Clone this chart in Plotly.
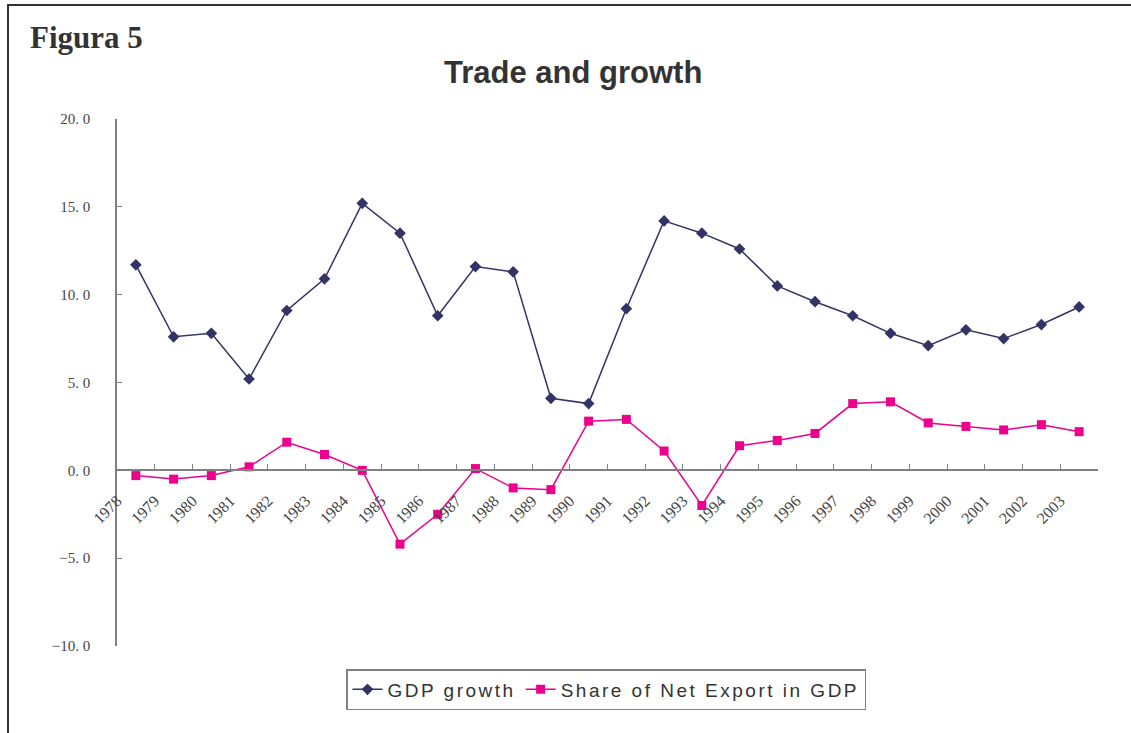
import plotly.graph_objects as go

years = list(range(1978, 2004))
gdp_growth = [11.7, 7.6, 7.8, 5.2, 9.1, 10.9, 15.2, 13.5, 8.8, 11.6, 11.3, 4.1, 3.8,
              9.2, 14.2, 13.5, 12.6, 10.5, 9.6, 8.8, 7.8, 7.1, 8.0, 7.5, 8.3, 9.3]
net_export_share = [-0.3, -0.5, -0.3, 0.2, 1.6, 0.9, 0.0, -4.2, -2.5, 0.1, -1.0, -1.1, 2.8,
                    2.9, 1.1, -2.0, 1.4, 1.7, 2.1, 3.8, 3.9, 2.7, 2.5, 2.3, 2.6, 2.2]
y_ticks = [-10, -5, 0, 5, 10, 15, 20]
y_tick_labels = ["\u221210. 0", "\u22125. 0", "0. 0", "5. 0", "10. 0", "15. 0", "20. 0"]
x_tick_labels = [str(y) for y in years] + [""]
series_names = ["GDP growth", "Share of Net Export in GDP"]

W, H = 1131, 733
L, R, T, B = 117, 33, 119, 87
pw, ph = W - L - R, H - T - B

def px_x(p):
    return (p - L) / pw

def px_y(p):
    return (H - B - p) / ph

def spaced(s):
    return '<span style="letter-spacing:2.5px">' + s + '</span>'

x_mid = [y + 0.5 for y in years]

fig = go.Figure()
fig.add_trace(go.Scatter(
    x=x_mid, y=gdp_growth, mode="lines+markers", name=spaced(series_names[0]),
    line=dict(color="#333366", width=1.5),
    marker=dict(symbol="diamond", size=9, color="#333366"),
))
fig.add_trace(go.Scatter(
    x=x_mid, y=net_export_share, mode="lines+markers", name=spaced(series_names[1]),
    line=dict(color="#EC008C", width=1.5),
    marker=dict(symbol="square", size=9, color="#EC008C"),
))

fig.update_layout(
    width=W, height=H,
    margin=dict(l=L, r=R, t=T, b=B),
    paper_bgcolor="white", plot_bgcolor="white",
    showlegend=True,
    legend=dict(
        orientation="h", x=px_x(606), xanchor="center", y=px_y(669), yanchor="top",
        bordercolor="#808080", borderwidth=1.5,
        font=dict(family="Liberation Sans, Arial, sans-serif", size=19, color="#333333"),
        tracegroupgap=0,
    ),
    xaxis=dict(
        range=[1978, 2004], tickmode="array",
        tickvals=list(range(1978, 2005)), ticktext=x_tick_labels,
        tickangle=-45, ticks="inside", ticklen=5, tickcolor="#808080",
        showline=True, linecolor="#808080", linewidth=2,
        showgrid=False, zeroline=False, ticklabelstandoff=14,
        anchor="free", position=1/3,
        tickfont=dict(family="Liberation Serif, DejaVu Serif, serif", size=16, color="#444444"),
    ),
    yaxis=dict(
        range=[-10, 20], tickmode="array", tickvals=y_ticks, ticktext=y_tick_labels,
        ticks="inside", ticklen=5, tickcolor="#808080",
        showline=True, linecolor="#808080", linewidth=1.5,
        showgrid=False, zeroline=False, ticklabelstandoff=22,
        tickfont=dict(family="Liberation Serif, DejaVu Serif, serif", size=15, color="#444444"),
    ),
    annotations=[
        dict(text="<b>Figura 5</b>", xref="paper", yref="paper", x=px_x(28), y=px_y(37),
             xanchor="left", yanchor="middle", showarrow=False,
             font=dict(family="Liberation Serif, DejaVu Serif, serif", size=31, color="#333333")),
        dict(text="<b>Trade and growth</b>", xref="paper", yref="paper", x=px_x(573), y=px_y(73),
             xanchor="center", yanchor="middle", showarrow=False,
             font=dict(family="Liberation Sans, Arial, sans-serif", size=31, color="#333333")),
    ],
    shapes=[
        dict(type="rect", xref="paper", yref="paper",
             x0=px_x(8), x1=px_x(1140), y0=px_y(745), y1=px_y(5),
             line=dict(color="#333333", width=2), fillcolor="rgba(0,0,0,0)", layer="below"),
    ],
)

fig.write_html("out.html", config={"displayModeBar": False},
               post_script="document.body.style.margin='0';")
